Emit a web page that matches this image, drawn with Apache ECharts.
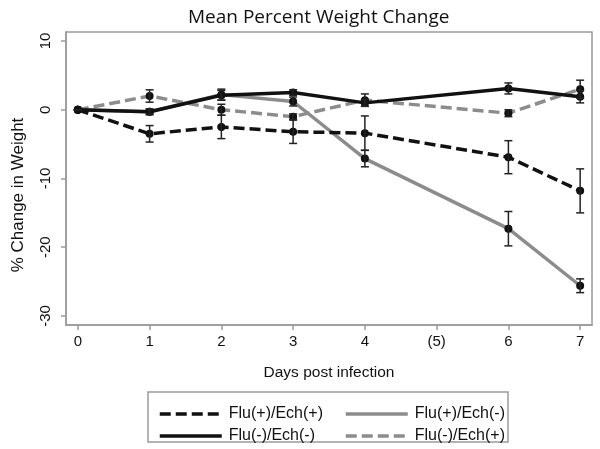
<!DOCTYPE html>
<html><head><meta charset="utf-8">
<script src="https://cdn.jsdelivr.net/npm/echarts@6/dist/echarts.min.js"></script>
<style>html,body{margin:0;padding:0;background:#fff}#c{width:600px;height:449px}</style>
</head><body><div id="c"></div>
<script>
const days = [0, 1, 2, 3, 4, 6, 7];
const xTickValues = [0, 1, 2, 3, 4, 5, 6, 7];
const xTickLabels = ['0', '1', '2', '3', '4', '(5)', '6', '7'];
const yTickValues = [-30, -20, -10, 0, 10];
const yTickLabels = ['-30', '-20', '-10', '0', '10'];
const seriesNames = ['Flu(+)/Ech(+)', 'Flu(+)/Ech(-)', 'Flu(-)/Ech(-)', 'Flu(-)/Ech(+)'];
const fluPosEchPos = [0, -3.5, -2.5, -3.2, -3.4, -6.9, -11.8];
const fluPosEchPosErr = [0, 1.2, 1.7, 1.7, 2.5, 2.4, 3.2];
const fluPosEchNeg = [0, -0.3, 2.2, 1.2, -7.1, -17.3, -25.6];
const fluPosEchNegErr = [0, 0.4, 0.8, 0.65, 1.2, 2.5, 1.0];
const fluNegEchNeg = [0, -0.3, 2.1, 2.5, 1.0, 3.1, 1.9];
const fluNegEchNegErr = [0, 0.4, 0.7, 0.4, 0.5, 0.8, 0.9];
const fluNegEchPos = [0, 2.0, 0.0, -1.0, 1.4, -0.5, 3.0];
const fluNegEchPosErr = [0, 0.9, 0.8, 0.4, 0.9, 0.5, 1.3];

const BLACK = '#111111', GRAY = '#8c8c8c', FRAME = '#9a9a9a';
const FONT = 'Liberation Sans';

const defs = [
  { name: seriesNames[1], vals: fluPosEchNeg, errs: fluPosEchNegErr, color: GRAY, type: 'solid', z: 2 },
  { name: seriesNames[3], vals: fluNegEchPos, errs: fluNegEchPosErr, color: GRAY, type: [11, 5], z: 3 },
  { name: seriesNames[0], vals: fluPosEchPos, errs: fluPosEchPosErr, color: BLACK, type: [11, 5], z: 4 },
  { name: seriesNames[2], vals: fluNegEchNeg, errs: fluNegEchNegErr, color: BLACK, type: 'solid', z: 5 }
];

function errRender(params, api) {
  const x = api.value(0), lo = api.value(1), hi = api.value(2);
  const a = api.coord([x, lo]), b = api.coord([x, hi]);
  const w = 4;
  const st = { stroke: '#222', lineWidth: 1.5 };
  return { type: 'group', children: [
    { type: 'line', shape: { x1: a[0], y1: a[1], x2: b[0], y2: b[1] }, style: st },
    { type: 'line', shape: { x1: a[0] - w, y1: a[1], x2: a[0] + w, y2: a[1] }, style: st },
    { type: 'line', shape: { x1: b[0] - w, y1: b[1], x2: b[0] + w, y2: b[1] }, style: st }
  ]};
}

const series = [];
defs.forEach(d => {
  series.push({
    name: d.name, type: 'line', z: d.z,
    data: days.map((x, i) => [x, d.vals[i]]),
    symbol: 'circle', symbolSize: 8,
    itemStyle: { color: BLACK },
    lineStyle: { color: d.color, width: 3.5, type: d.type },
    emphasis: { disabled: true }, animation: false
  });
});
defs.forEach(d => {
  series.push({
    name: d.name + ' err', type: 'custom', z: 10,
    renderItem: errRender,
    encode: { x: 0, y: [1, 2] },
    data: days.map((x, i) => [x, d.vals[i] - d.errs[i], d.vals[i] + d.errs[i]]),
    animation: false, silent: true
  });
});

const legendCommon = {
  orient: 'vertical', itemWidth: 62, itemHeight: 14, itemGap: 6,
  textStyle: { fontFamily: FONT, fontSize: 16, color: BLACK, padding: [0, 0, 0, 2] },
  lineStyle: { width: 3.5 }, itemStyle: { opacity: 0 },
  selectedMode: false, top: 401
};

const chart = echarts.init(document.getElementById('c'), null, { renderer: 'canvas' });
chart.setOption({
  animation: false,
  backgroundColor: '#fff',
  title: {
    text: 'Mean Percent Weight Change', left: 183, top: 3,
    textStyle: { fontFamily: 'Open Sans', fontSize: 19, fontWeight: 'normal', color: BLACK }
  },
  legend: [
    Object.assign({}, legendCommon, { left: 153, data: [seriesNames[0], seriesNames[2]] }),
    Object.assign({}, legendCommon, { left: 339, data: [seriesNames[1], seriesNames[3]] })
  ],
  grid: { left: 66, right: 8, top: 32, bottom: 124, show: true, borderColor: FRAME, borderWidth: 1.5, backgroundColor: '#fff' },
  xAxis: {
    type: 'value', min: -0.165, max: 7.165,
    name: 'Days post infection', nameLocation: 'middle', nameGap: 40,
    nameTextStyle: { fontFamily: FONT, fontSize: 15.5, color: BLACK },
    axisLine: { show: true, onZero: false, lineStyle: { color: FRAME, width: 1.5 } },
    axisTick: { show: true, customValues: xTickValues, length: 5, lineStyle: { color: FRAME, width: 1.5 } },
    axisLabel: { customValues: xTickValues, margin: 9, fontFamily: FONT, fontSize: 15, color: BLACK,
      formatter: v => xTickLabels[xTickValues.indexOf(Math.round(v))] },
    splitLine: { show: false }
  },
  yAxis: {
    type: 'value', min: -31.31, max: 11.31,
    axisLine: { show: true, onZero: false, lineStyle: { color: FRAME, width: 1.5 } },
    axisTick: { show: true, customValues: yTickValues, length: 5, lineStyle: { color: FRAME, width: 1.5 } },
    axisLabel: { customValues: yTickValues, rotate: 90, margin: 13, fontFamily: FONT, fontSize: 15, color: BLACK,
      formatter: v => yTickLabels[yTickValues.indexOf(Math.round(v))] },
    splitLine: { show: false }
  },
  graphic: [
    { type: 'text', x: 18, y: 195, rotation: Math.PI / 2,
      style: { text: '% Change in Weight', fontFamily: FONT, fontSize: 17, fill: BLACK, align: 'center', verticalAlign: 'middle' } },
    { type: 'rect', shape: { x: 148, y: 392, width: 360, height: 50 }, z: -1,
      style: { fill: '#fff', stroke: FRAME, lineWidth: 1.5 } }
  ],
  series: series
});
</script>
</body></html>
